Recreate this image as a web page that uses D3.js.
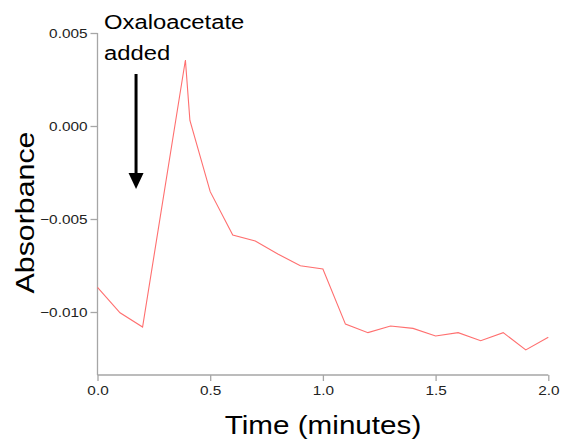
<!DOCTYPE html>
<html>
<head>
<meta charset="utf-8">
<script src="https://cdn.jsdelivr.net/npm/d3@7"></script>
<style>
  html, body { margin: 0; padding: 0; background: #fff; }
  svg { display: block; font-family: "Liberation Sans", Arial, sans-serif; }
</style>
</head>
<body>
<svg id="chart" width="571" height="443"></svg>
<script>
// Data
const times = [0.0, 0.1, 0.2, 0.39, 0.41, 0.5, 0.6, 0.7, 0.8, 0.9, 1.0, 1.1, 1.2, 1.3, 1.4, 1.5, 1.6, 1.7, 1.8, 1.9, 2.0];
const absorbance = [-0.00867, -0.01004, -0.01081, 0.00355, 0.0003, -0.00353, -0.00586, -0.00618, -0.00688, -0.00751, -0.00769,
                    -0.01065, -0.01111, -0.01075, -0.01088, -0.01129, -0.01111, -0.01154, -0.01111, -0.01204, -0.01136];
const xTicks = [0.0, 0.5, 1.0, 1.5, 2.0];
const yTicks = [0.005, 0.000, -0.005, -0.010];
const xLabel = "Time (minutes)";
const yLabel = "Absorbance";
const annotationLines = ["Oxaloacetate", "added"];
const annotationTime = 0.171;

(function () {
const svg = d3.select("#chart");
const mLeft = 97.5, mRight = 548.3, mTop = 33, mBottom = 375;
const stretch = 1.18; // glyphs in the reference are horizontally wider than Arial

function widen(sel, ratio) {
  sel.each(function () {
    const w = this.getComputedTextLength();
    d3.select(this).attr("textLength", w * ratio).attr("lengthAdjust", "spacingAndGlyphs");
  });
}

const x = d3.scaleLinear().domain([0, 2]).range([mLeft, mRight]);
const y = d3.scaleLinear().domain([-0.013387, 0.005]).range([mBottom, mTop]);

const axisColor = "#a6a6a6";

// X axis
const gx = svg.append("g").attr("transform", `translate(0,${mBottom})`)
  .call(d3.axisBottom(x).tickValues(xTicks).tickFormat(d3.format(".1f")).tickSize(6).tickSizeOuter(0).tickPadding(5));
// Y axis
const gy = svg.append("g").attr("transform", `translate(${mLeft},0)`)
  .call(d3.axisLeft(y).tickValues(yTicks).tickFormat(d3.format(".3f")).tickSize(7).tickSizeOuter(0).tickPadding(3));

[gx, gy].forEach(g => {
  g.select(".domain").attr("stroke", axisColor).attr("stroke-width", 1.3);
  g.selectAll(".tick line").attr("stroke", axisColor).attr("stroke-width", 1.3);
  g.selectAll(".tick text").attr("fill", "#222").style("font-size", "13px")
    .style("font-family", "'Liberation Sans', Arial, sans-serif");
  widen(g.selectAll(".tick text"), stretch);
});
gy.select(".domain").attr("d", `M0,${mBottom}V${mTop}`);
gx.select(".domain").attr("d", `M${mLeft},0H${mRight}`);

// Line
const line = d3.line().x((d, i) => x(times[i])).y(d => y(d));
svg.append("path").datum(absorbance)
  .attr("d", line)
  .attr("fill", "none")
  .attr("stroke", "#ff6f6f")
  .attr("stroke-width", 1.1);

// Axis titles
const xt = svg.append("text").attr("x", 323).attr("y", 434)
  .attr("text-anchor", "middle").style("font-size", "26px").attr("fill", "#000").text(xLabel);
widen(xt, 1.14);
const yt = svg.append("text").attr("transform", `translate(34,212.5) rotate(-90)`)
  .attr("text-anchor", "middle").style("font-size", "25.5px").attr("fill", "#000").text(yLabel);
widen(yt, 1.19);

// Annotation
const a1 = svg.append("text").attr("x", 104).attr("y", 29).style("font-size", "20px").attr("fill", "#000").text(annotationLines[0]);
const a2 = svg.append("text").attr("x", 104).attr("y", 60).style("font-size", "20px").attr("fill", "#000").text(annotationLines[1]);
widen(a1, 1.19);
widen(a2, 1.19);
const ax = x(annotationTime);
svg.append("line").attr("x1", ax).attr("x2", ax).attr("y1", 74).attr("y2", 175)
  .attr("stroke", "#000").attr("stroke-width", 3);
svg.append("path").attr("d", `M${ax - 7.5},173L${ax + 7.5},173L${ax},189Z`).attr("fill", "#000");
})();
</script>
</body>
</html>
